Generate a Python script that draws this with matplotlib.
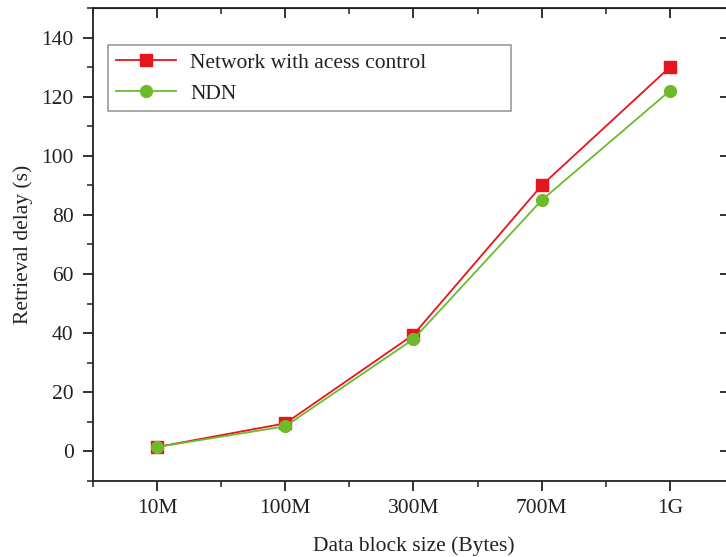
import matplotlib
matplotlib.use("Agg")
import matplotlib.pyplot as plt
from matplotlib.ticker import MultipleLocator

categories = ["10M", "100M", "300M", "700M", "1G"]
access_control = [1.5, 9.5, 39.5, 90, 130]
ndn = [1.5, 8.5, 38, 85, 122]

plt.rcParams['font.family'] = ['Liberation Serif', 'DejaVu Serif']
W, H = 726, 557
fig = plt.figure(figsize=(W / 100, H / 100), dpi=100)
left, right, top, bottom = 93, 734, 8, 481
ax = fig.add_axes([left / W, 1 - bottom / H, (right - left) / W, (bottom - top) / H])

x = list(range(1, len(categories) + 1))
ax.plot(x, access_control, color='#e8141b', lw=1.3, marker='s', ms=8.5,
        label='Network with acess control')
ax.plot(x, ndn, color='#6cbb2b', lw=1.3, marker='o', ms=8.5, label='NDN')

ax.set_xlim(0.5, 5.5)
ax.set_ylim(-10, 150)
ax.set_xticks(x)
ax.set_xticklabels(categories)
ax.xaxis.set_minor_locator(MultipleLocator(0.5))
ax.yaxis.set_major_locator(MultipleLocator(20))
ax.yaxis.set_minor_locator(MultipleLocator(10))
ax.yaxis.set_major_formatter(plt.FuncFormatter(lambda v, p: f"{int(v)}" if v >= 0 else ""))

tc = '#222222'
ax.tick_params(which='major', direction='out', length=7, width=1.3, labelsize=15.5,
               colors=tc)
ax.tick_params(axis='y', which='major', pad=7)
ax.tick_params(axis='x', which='major', pad=6)
ax.tick_params(which='minor', direction='out', length=4, width=1.1, colors=tc)
# inward ticks on top/right (mirror)
secx = ax.secondary_xaxis('top')
secx.set_xticks(x)
secx.xaxis.set_minor_locator(MultipleLocator(0.5))
secx.tick_params(which='major', direction='in', length=7, width=1.3, labeltop=False, colors=tc)
secx.tick_params(which='minor', direction='in', length=4, width=1.1, colors=tc)
secx.set_xticklabels([])
secy = ax.secondary_yaxis('right')
secy.yaxis.set_major_locator(MultipleLocator(20))
secy.tick_params(which='major', direction='in', length=10, width=1.3, labelright=False, colors=tc)
secy.tick_params(which='minor', length=0)

for s in ax.spines.values():
    s.set_linewidth(1.3)
    s.set_color(tc)

ax.set_xlabel('Data block size (Bytes)', fontsize=15.5, color=tc, labelpad=13)
ax.set_ylabel('Retrieval delay (s)', fontsize=15.5, color=tc, labelpad=6)

lx0 = (108 - left) / (right - left)
lx1 = (511 - left) / (right - left)
ly1 = (bottom - 45) / (bottom - top)
ly0 = (bottom - 109) / (bottom - top)
leg = ax.legend(loc='upper left', bbox_to_anchor=(lx0, ly0, lx1 - lx0, ly1 - ly0),
                mode='expand', fontsize=15.5,
                frameon=True, fancybox=False, edgecolor='#777777', handlelength=2.8,
                borderpad=0.36, labelspacing=0.5, handletextpad=0.65, borderaxespad=0)
leg.get_frame().set_linewidth(1.1)
for t in leg.get_texts():
    t.set_color(tc)

fig.savefig('out.png', dpi=100, facecolor='white')
